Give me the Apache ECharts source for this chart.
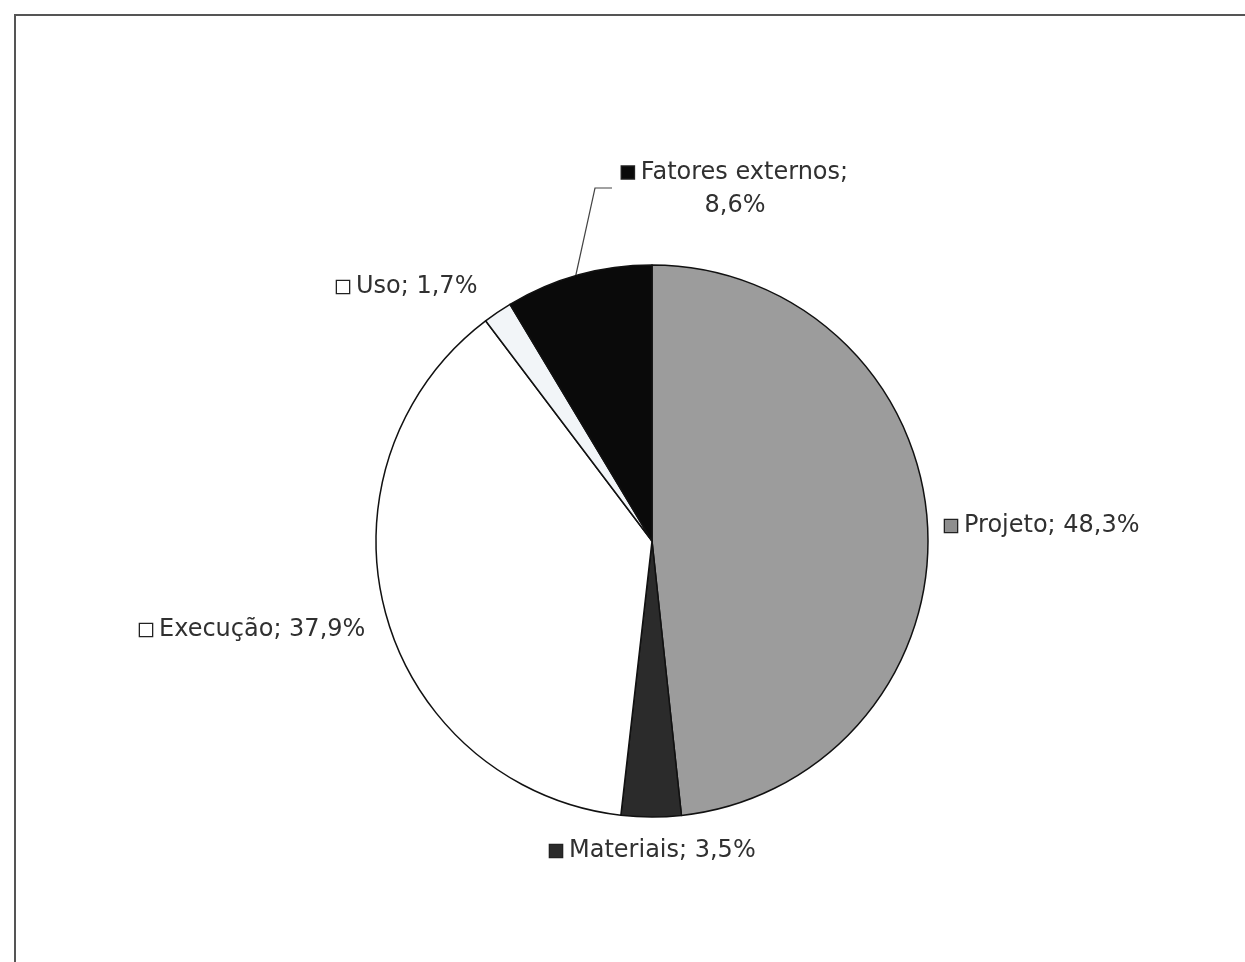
<!DOCTYPE html>
<html>
<head>
<meta charset="utf-8">
<script src="https://cdn.jsdelivr.net/npm/echarts@6/dist/echarts.min.js"></script>
<style>
html, body { margin: 0; padding: 0; background: #fff; }
#chart { width: 1245px; height: 962px; }
</style>
</head>
<body>
<div id="chart"></div>
<script>
// slices, clockwise from 12 o'clock
var categories = ['Projeto', 'Materiais', 'Execução', 'Uso', 'Fatores externos'];
var values = [48.3, 3.5, 37.9, 1.7, 8.6];
var valueLabels = ['48,3%', '3,5%', '37,9%', '1,7%', '8,6%'];
var sliceColors = ['#9c9c9c', '#2b2b2b', '#ffffff', '#f2f5f8', '#0a0a0a'];
var keyColors = ['#8e8e8e', '#2b2b2b', '#ffffff', '#ffffff', '#0a0a0a'];

// where each label sits (left edge / middle), px
var labelSpots = [
  {x: 945, y: 526, align: 'left'},
  {x: 550, y: 851, align: 'left'},
  {x: 140, y: 630, align: 'left'},
  {x: 337, y: 287, align: 'left'},
  {x: 735, y: 189, align: 'center'}
];

var chart = echarts.init(document.getElementById('chart'), null, {renderer: 'canvas'});

var pieData = categories.map(function (name, i) {
  var sep = name === 'Fatores externos' ? ';\n' : '; ';
  return {
    name: name,
    value: values[i],
    itemStyle: {color: sliceColors[i]},
    label: {
      formatter: '{sq|}{gap|}' + name + sep + valueLabels[i],
      rich: {
        sq: {
          width: 12,
          height: 12,
          backgroundColor: keyColors[i],
          borderColor: '#222',
          borderWidth: 1.3
        },
        gap: {width: 7}
      }
    },
    labelLine: {show: name === 'Fatores externos'}
  };
});

var option = {
  animation: false,
  backgroundColor: '#fff',
  graphic: [
    {
      type: 'polyline',
      shape: {points: [[15, 962], [15, 15], [1245, 15]]},
      style: {stroke: '#555', lineWidth: 2, fill: null}
    }
  ],
  series: [
    {
      type: 'pie',
      center: [652, 541],
      radius: [0, 276],
      startAngle: 90,
      clockwise: true,
      data: pieData,
      itemStyle: {borderColor: '#111', borderWidth: 1.5},
      label: {
        show: true,
        position: 'outside',
        fontFamily: 'DejaVu Sans',
        fontSize: 24,
        color: '#303030',
        lineHeight: 33
      },
      labelLine: {
        lineStyle: {color: '#444', width: 1.2}
      },
      labelLayout: function (params) {
        var s = labelSpots[params.dataIndex];
        var out = {x: s.x, y: s.y, align: s.align, verticalAlign: 'middle'};
        if (params.dataIndex === 4) {
          out.labelLinePoints = [[575, 279], [595, 188], [612, 188]];
        }
        return out;
      },
      emphasis: {disabled: true}
    }
  ]
};

chart.setOption(option);
</script>
</body>
</html>
